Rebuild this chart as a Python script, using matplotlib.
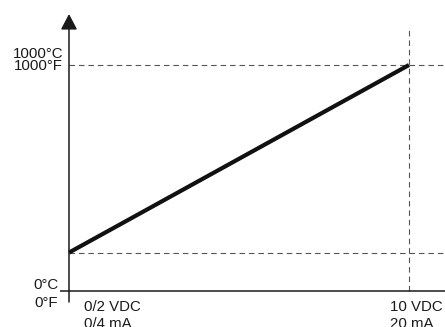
import matplotlib.pyplot as plt

# signal range (VDC) and temperature range
volts = [0, 10]
temps = [170, 1000]          # line starts a bit above 0 (offset input)
temp_ticks = [0, 1000]
temp_labels = [("0°C", "0°F"), ("1000°C", "1000°F")]
signal_labels = [("0/2 VDC", "0/4 mA"), ("10 VDC", "20 mA")]

W, H = 445, 327
# pixel layout: origin and the position of the full-scale point
ox, oy = 69, 291
fx, fy = 409, 65
sx = (fx - ox) / (volts[1] - volts[0])
sy = (oy - fy) / (temp_ticks[1] - temp_ticks[0])

plt.rcParams["font.family"] = ["Liberation Sans", "DejaVu Sans"]
fig = plt.figure(figsize=(W / 100, H / 100), dpi=100)
ax = fig.add_axes([0, 0, 1, 1])
ax.set_xlim(volts[0] - ox / sx, volts[0] + (W - ox) / sx)
ax.set_ylim(temp_ticks[0] - (H - oy) / sy, temp_ticks[0] + oy / sy)
ax.axis("off")

x0, x1 = ax.get_xlim()
y0, y1 = ax.get_ylim()
px = 1 / sx   # one pixel in data units
py = 1 / sy

dash = dict(color="#555555", lw=0.8, dashes=(5, 3.5))
# guide lines
ax.plot([volts[0], x1], [temps[0], temps[0]], **dash)
ax.plot([volts[0], x1], [temps[1], temps[1]], **dash)
ax.plot([volts[1], volts[1]], [temp_ticks[0], y1 - 27 * py], **dash)

# axes
ax.plot([volts[0] - 9 * px, x1], [temp_ticks[0], temp_ticks[0]],
        color="#1a1a1a", lw=1.1, solid_capstyle="butt")
ax.annotate("", xy=(volts[0], y1 - 14 * py), xytext=(volts[0], temp_ticks[0] - 11 * py),
            arrowprops=dict(arrowstyle="-|>,head_length=0.95,head_width=0.5",
                            lw=1.1, color="#1a1a1a", shrinkA=0, shrinkB=0))

# transfer line
ax.plot(volts, temps, color="#111111", lw=3, solid_capstyle="butt")

fs = 10.8
tc = "#1a1a1a"
# temperature labels
offs = [((-11, 6), (-11, -12)), ((-6, 11.5), (-6, -1.5))]
for t, (lc, lf), (oc, of) in zip(temp_ticks, temp_labels, offs):
    ax.annotate(lc, xy=(volts[0], t), xytext=oc, textcoords="offset pixels",
                ha="right", va="center", fontsize=fs, color=tc)
    ax.annotate(lf, xy=(volts[0], t), xytext=of, textcoords="offset pixels",
                ha="right", va="center", fontsize=fs, color=tc)

# signal labels
xoffs = [15, -19]
for v, (l1, l2), dx in zip(volts, signal_labels, xoffs):
    ax.annotate(l1, xy=(v, temp_ticks[0]), xytext=(dx, -20), textcoords="offset pixels",
                ha="left", va="baseline", fontsize=fs, color=tc)
    ax.annotate(l2, xy=(v, temp_ticks[0]), xytext=(dx, -37), textcoords="offset pixels",
                ha="left", va="baseline", fontsize=fs, color=tc)

fig.savefig("out.png", dpi=100)
